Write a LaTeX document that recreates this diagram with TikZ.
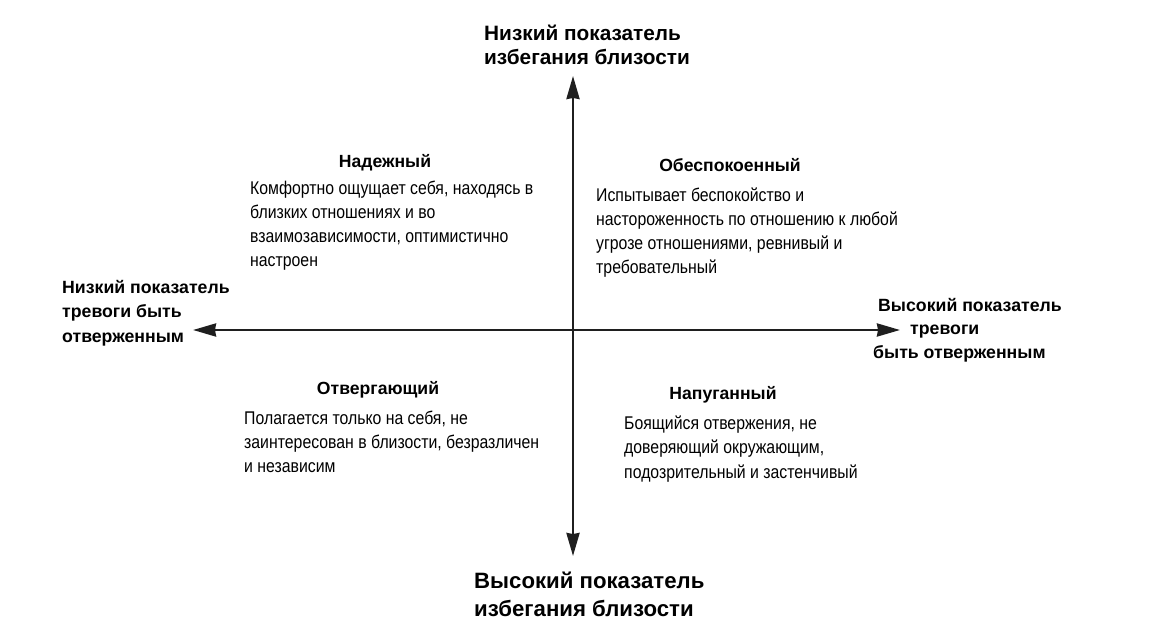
\documentclass[tikz,border=0pt]{standalone}
\usepackage{fontspec}
\setmainfont{Liberation Sans}
\newfontfamily\narrowfont[FakeStretch=0.86]{Liberation Sans}
\usetikzlibrary{arrows.meta}
\def \tip{Stealth[length=23pt,width=13pt,inset=1pt]}
\tikzset{
  axis/.style={draw=black!88, line width=2.5pt, arrows={\tip-\tip}},
  axislabel/.style={inner sep=0pt, anchor=west, align=left, font=\bfseries\fontsize{20.8}{24}\selectfont},
  sidelabel/.style={inner sep=0pt, anchor=west, align=left, font=\bfseries\fontsize{17.7}{24.5}\selectfont},
  typetitle/.style={inner sep=0pt, font=\bfseries\fontsize{17.6}{22}\selectfont},
  typetext/.style={inner sep=0pt, anchor=west, align=left, font=\narrowfont\fontsize{18.4}{24.2}\selectfont}
}
\begin{document}
\begin{tikzpicture}[x=1pt,y=-1pt]

    \useasboundingbox (0,0) rectangle (1166,636);

    % axes
    \coordinate (top) at (573,76);
    \coordinate (bottom) at (573,556);
    \coordinate (left) at (193,330);
    \coordinate (right) at (900,330);
    \draw[axis] (top) -- (bottom);
    \draw[axis] (left) -- (right);

    % axis labels
    \node[axislabel] (lowavoid) at (484,45) {Низкий показатель\\избегания близости};
    \node[axislabel, font=\bfseries\fontsize{22.2}{28}\selectfont] (highavoid) at (474,594) {Высокий показатель\\избегания близости};
    \node[sidelabel] (lowanx) at (62,313) {Низкий показатель\\тревоги быть\\отверженным};
    \node[sidelabel, font=\bfseries\fontsize{17.7}{23.5}\selectfont] (highanx) at (873,330) {\hspace*{5pt}Высокий показатель\\\hspace*{37pt}тревоги\\быть отверженным};

    % quadrants
    \node[typetitle] (secure) at (385,163) {Надежный};
    \node[typetext] (securetext) at (250,225.5) {Комфортно ощущает себя, находясь в\\близких отношениях и во\\взаимозависимости, оптимистично\\настроен};

    \node[typetitle] (anxious) at (730,165) {Обеспокоенный};
    \node[typetext] (anxioustext) at (596,232.5) {Испытывает беспокойство и\\настороженность по отношению к любой\\угрозе отношениями, ревнивый и\\требовательный};

    \node[typetitle] (dismissive) at (378,390) {Отвергающий};
    \node[typetext] (dismissivetext) at (244,442) {Полагается только на себя, не\\заинтересован в близости, безразличен\\и независим};

    \node[typetitle] (fearful) at (723,395) {Напуганный};
    \node[typetext] (fearfultext) at (624,449) {Боящийся отвержения, не\\доверяющий окружающим,\\подозрительный и застенчивый};

  \end{tikzpicture}
\end{document}
